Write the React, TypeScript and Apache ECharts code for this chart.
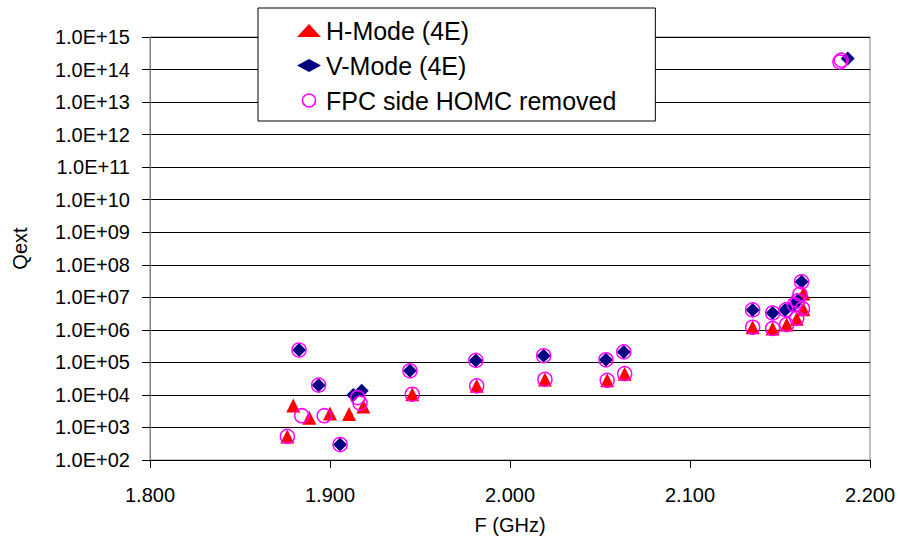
import React, { useEffect, useRef } from "react";
import * as echarts from "echarts";

const hModeF = [1.8763, 1.8796, 1.8885, 1.9, 1.9106, 1.9185, 1.9457, 1.9815, 2.0194, 2.054, 2.0637, 2.1348, 2.1459, 2.1537, 2.1593, 2.163, 2.163];
const hModeQ = [5.3e2, 4.7e3, 2.0e3, 2.7e3, 2.6e3, 4.4e3, 1.05e4, 1.9e4, 3.0e4, 2.8e4, 4.5e4, 1.2e6, 1.1e6, 1.45e6, 2.2e6, 4.3e6, 1.3e7];

const vModeF = [1.8828, 1.8937, 1.9056, 1.913, 1.9176, 1.9444, 1.981, 2.0187, 2.0533, 2.0632, 2.1348, 2.1459, 2.1528, 2.1574, 2.1598, 2.162, 2.1876];
const vModeQ = [2.4e5, 2.0e4, 3.0e2, 1.0e4, 1.35e4, 5.5e4, 1.15e5, 1.6e5, 1.2e5, 2.1e5, 4.1e6, 3.3e6, 4.1e6, 5.6e6, 7.8e6, 3.0e7, 2.2e14];

const fpcF = [1.8763, 1.8828, 1.8843, 1.8937, 1.8968, 1.9056, 1.9154, 1.9167, 1.9444, 1.9457, 1.981, 1.9815, 2.0187, 2.0194, 2.0533, 2.054, 2.0632, 2.0637, 2.1348, 2.1348, 2.1459, 2.1459, 2.1533, 2.1537, 2.158, 2.1593, 2.1598, 2.1611, 2.162, 2.1625, 2.1833, 2.184];
const fpcQ = [5.3e2, 2.4e5, 2.3e3, 2.0e4, 2.3e3, 3.0e2, 8.3e3, 5.6e3, 5.5e4, 1.05e4, 1.15e5, 1.9e4, 1.6e5, 3.0e4, 1.2e5, 2.8e4, 2.1e5, 4.5e4, 4.1e6, 1.2e6, 3.3e6, 1.1e6, 4.1e6, 1.45e6, 5.9e6, 2.3e6, 7.8e6, 1.25e7, 3.0e7, 4.5e6, 1.7e14, 1.95e14];

const xTicksMin = 1.8;
const xTicksMax = 2.2;
const yMin = 1e2;
const yMax = 1e15;

const seriesNames = ["H-Mode (4E)", "V-Mode (4E)", "FPC side HOMC removed"];

const zip = (a: number[], b: number[]) => a.map((v, i) => [v, b[i]]);

const FONT = "'Liberation Sans', Arial, sans-serif";

export default function App() {
  const ref = useRef<HTMLDivElement>(null);
  useEffect(() => {
    if (!ref.current) return;
    const chart = echarts.init(ref.current, undefined, { renderer: "svg" });
    chart.setOption({
      animation: false,
      backgroundColor: "#ffffff",
      textStyle: { fontFamily: FONT },
      grid: {
        left: 150,
        right: 30,
        top: 37,
        bottom: 77,
        show: true,
        borderColor: "#808080",
        borderWidth: 1,
        backgroundColor: "transparent",
      },
      legend: {
        orient: "vertical",
        left: 258,
        top: 8,
        padding: [10, 39, 8, 39],
        itemGap: 10,
        itemWidth: 24,
        itemHeight: 13,
        backgroundColor: "#ffffff",
        borderColor: "#000000",
        borderWidth: 1,
        borderRadius: 0,
        textStyle: { fontFamily: FONT, fontSize: 25, color: "#000", lineHeight: 25 },
        data: [
          { name: seriesNames[0], icon: "triangle", itemStyle: { color: "#ff0000", opacity: 1 } },
          { name: seriesNames[1], icon: "diamond", itemStyle: { color: "#000080", opacity: 1 } },
          {
            name: seriesNames[2],
            icon: "circle",
            itemStyle: { color: "#ffffff", borderColor: "#ff00ff", borderWidth: 1.5, opacity: 1 },
          },
        ],
        z: 10,
      },
      xAxis: {
        type: "value",
        min: xTicksMin,
        max: xTicksMax,
        interval: 0.1,
        name: "F (GHz)",
        nameLocation: "middle",
        nameGap: 55,
        nameTextStyle: { fontFamily: FONT, fontSize: 20, color: "#000" },
        axisLine: { show: true, lineStyle: { color: "#000", width: 1 } },
        axisTick: { show: true, length: 8, lineStyle: { color: "#000" } },
        axisLabel: {
          fontFamily: FONT,
          fontSize: 20,
          color: "#000",
          margin: 25,
          formatter: (v: number) => v.toFixed(3),
        },
        splitLine: { show: false },
      },
      yAxis: {
        type: "log",
        logBase: 10,
        min: yMin,
        max: yMax,
        interval: 1,
        name: "Qext",
        nameLocation: "middle",
        nameRotate: 90,
        nameGap: 120,
        nameTextStyle: { fontFamily: FONT, fontSize: 20, color: "#000" },
        axisLine: { show: true, lineStyle: { color: "#808080", width: 1 } },
        axisTick: { show: true, length: 8, lineStyle: { color: "#000" } },
        axisLabel: {
          fontFamily: FONT,
          fontSize: 20,
          color: "#000",
          margin: 20,
          formatter: (v: number) => {
            const e = Math.round(Math.log10(v));
            return "1.0E+" + (e < 10 ? "0" : "") + e;
          },
        },
        splitLine: { show: true, lineStyle: { color: "#000", width: 1 } },
      },
      series: [
        {
          name: seriesNames[0],
          type: "scatter",
          symbol: "triangle",
          symbolSize: 14,
          itemStyle: { color: "#ff0000", opacity: 1 },
          data: zip(hModeF, hModeQ),
          z: 2,
        },
        {
          name: seriesNames[1],
          type: "scatter",
          symbol: "diamond",
          symbolSize: 14,
          itemStyle: { color: "#000080", opacity: 1 },
          data: zip(vModeF, vModeQ),
          z: 3,
        },
        {
          name: seriesNames[2],
          type: "scatter",
          symbol: "circle",
          symbolSize: 14,
          itemStyle: { color: "rgba(0,0,0,0)", borderColor: "#ff00ff", borderWidth: 1.5, opacity: 1 },
          data: zip(fpcF, fpcQ),
          z: 4,
        },
      ],
    });
    return () => chart.dispose();
  }, []);
  return (
    <div
      ref={ref}
      style={{ position: "fixed", left: 0, top: 0, width: 900, height: 540 }}
    />
  );
}
